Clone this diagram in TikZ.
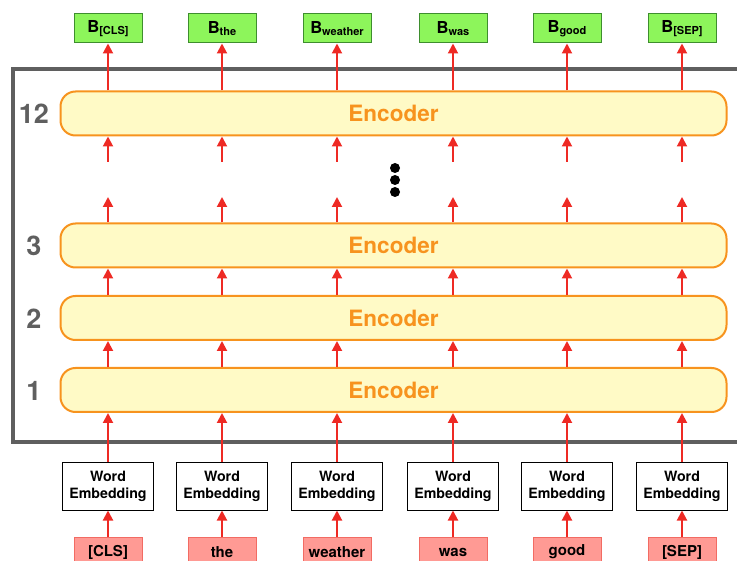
\documentclass[tikz,border=0pt]{standalone}
\usepackage{fontspec}
\setmainfont{TeX Gyre Heros}
\usetikzlibrary{arrows.meta}

\definecolor{linkred}{HTML}{EE2A24}
\definecolor{encorange}{HTML}{F7931E}
\definecolor{encyellow}{HTML}{FFFAC6}
\definecolor{outgreen}{HTML}{8DF55B}
\definecolor{outgreenline}{HTML}{3E8E2E}
\definecolor{tokred}{HTML}{FF9A94}
\definecolor{tokredline}{HTML}{F26B63}
\definecolor{framegray}{HTML}{5F5F5F}

\newcommand{\tokensub}[1]{{\fontsize{11}{12}\selectfont\raisebox{-2.5pt}{#1}}}

\begin{document}
\begin{tikzpicture}[x=1pt,y=-1pt,font=\bfseries,
  link/.style={-{Triangle[length=10pt,width=10pt]},linkred,line width=2pt},
  encoder/.style={draw=encorange,line width=2pt,fill=encyellow,rounded corners=15pt,
    minimum width=666pt,minimum height=44pt,inner sep=0pt,text=encorange,
    font=\bfseries\fontsize{22.5}{26}\selectfont},
  layerno/.style={text=framegray,font=\bfseries\fontsize{27}{30}\selectfont},
  outbox/.style={draw=outgreenline,line width=1pt,fill=outgreen,minimum width=68pt,
    minimum height=29pt,inner sep=0pt,font=\bfseries\fontsize{16.5}{18}\selectfont},
  embbox/.style={draw=black,line width=1pt,fill=white,minimum width=91pt,minimum height=47pt,
    inner sep=0pt,align=center,font=\bfseries\fontsize{14.2}{17.5}\selectfont},
  tokbox/.style={draw=tokredline,line width=1pt,fill=tokred,minimum width=68pt,
    minimum height=30pt,inner sep=0pt,font=\bfseries\fontsize{15}{17}\selectfont}]
\useasboundingbox (0,0) rectangle (737,561);

% outer frame, open on the right
\draw[framegray,line width=3.5pt] (745,69) -- (13,69) -- (13,442) -- (745,442);

% encoder stack
\node[encoder] (enc12) at (393.5,113.5) {Encoder};
\node[encoder] (enc3) at (393.5,245.5) {Encoder};
\node[encoder] (enc2) at (393.5,318) {Encoder};
\node[encoder] (enc1) at (393.5,390) {Encoder};
\node[layerno] (no12) at (34,114) {12};
\node[layerno] (no3) at (34,246) {3};
\node[layerno] (no2) at (34,319) {2};
\node[layerno] (no1) at (34,391) {1};

% dots
\foreach \y in {168,180,192}
  \fill (395,\y) circle (5pt);

% columns
\foreach \x/\tok/\sub [count=\i] in {108/{[CLS]}/{[CLS]},222/the/the,337/weather/weather,
    453/was/was,567/good/good,682/{[SEP]}/{[SEP]}} {
  \node[outbox] (out\i) at (\x,28.5) {B\tokensub{\sub}};
  \node[embbox] (emb\i) at (\x,486.5) {Word\\Embedding};
  \node[tokbox] (tok\i) at (\x,552) {\tok};
  \coordinate (gapbot\i) at (\x,162);
  \coordinate (gaptop\i) at (\x,197);
  \draw[link] (tok\i.north) -- (emb\i.south);
  \draw[link] (emb\i.north) -- (enc1.south -| emb\i.north);
  \draw[link] (enc1.north -| emb\i.north) -- (enc2.south -| emb\i.north);
  \draw[link] (enc2.north -| emb\i.north) -- (enc3.south -| emb\i.north);
  \draw[link] (enc3.north -| emb\i.north) -- (gaptop\i);
  \draw[link] (gapbot\i) -- (enc12.south -| emb\i.north);
  \draw[link] (enc12.north -| emb\i.north) -- (out\i.south);
}
\end{tikzpicture}
\end{document}
